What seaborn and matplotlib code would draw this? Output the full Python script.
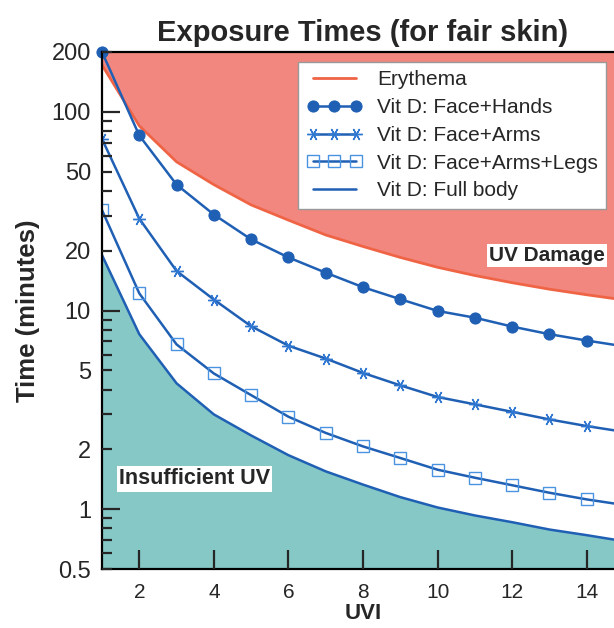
import numpy as np
import pandas as pd
import seaborn as sns
import matplotlib.pyplot as plt
from matplotlib.ticker import FixedLocator, FixedFormatter

# values (minutes vs UV index)
uvi = [1, 2, 3, 4, 5, 6, 7, 8, 9, 10, 11, 12, 13, 14, 15]
erythema = [172, 85, 56, 43, 34, 28.5, 24, 21, 18.5, 16.5, 15, 13.8, 12.8, 12, 11.3]
face_hands = [200, 76, 43, 30.4, 22.8, 18.5, 15.5, 13.1, 11.4, 9.95, 9.2, 8.3, 7.6, 7.06, 6.6]
face_arms = [73, 29, 15.8, 11.35, 8.33, 6.65, 5.73, 4.85, 4.2, 3.67, 3.37, 3.09, 2.83, 2.62, 2.45]
face_arms_legs = [32, 12.2, 6.75, 4.82, 3.75, 2.92, 2.42, 2.07, 1.81, 1.58, 1.44, 1.32, 1.21, 1.12, 1.05]
full_body = [19, 7.6, 4.3, 3.0, 2.35, 1.87, 1.55, 1.33, 1.15, 1.02, 0.93, 0.86, 0.79, 0.74, 0.69]

df = pd.DataFrame({
    "UVI": uvi,
    "Erythema": erythema,
    "Vit D: Face+Hands": face_hands,
    "Vit D: Face+Arms": face_arms,
    "Vit D: Face+Arms+Legs": face_arms_legs,
    "Vit D: Full body": full_body,
})

sns.set_style("ticks")
plt.rcParams["font.family"] = ["Liberation Sans", "DejaVu Sans"]

blue = "#1f5fb4"
fig = plt.figure(figsize=(6.14, 6.28), dpi=100)
# axes run a little past the right edge, like the cropped original
ax = fig.add_axes([102 / 614, 59 / 628, 522 / 614, 517 / 628])
ax.set_axisbelow(False)

# shaded regions
ax.fill_between(df["UVI"], df["Erythema"], 200, color="#f2877f", lw=0)
ax.fill_between(df["UVI"], 0.5, df["Vit D: Full body"], color="#85c8c5", lw=0)

sns.lineplot(data=df, x="UVI", y="Erythema", ax=ax, color="#f06446", lw=2,
             label="Erythema")
sns.lineplot(data=df, x="UVI", y="Vit D: Face+Hands", ax=ax, color=blue, lw=1.8,
             marker="o", markersize=8, markeredgecolor=blue, clip_on=False,
             label="Vit D: Face+Hands")
sns.lineplot(data=df, x="UVI", y="Vit D: Face+Arms", ax=ax, color=blue, lw=1.8,
             marker=(6, 2, 90), markersize=9, markeredgecolor="#2f77d0",
             markeredgewidth=1.0, label="Vit D: Face+Arms")
sns.lineplot(data=df, x="UVI", y="Vit D: Face+Arms+Legs", ax=ax, color=blue, lw=1.8,
             marker="s", markersize=8, markerfacecolor="none",
             markeredgecolor="#4a93e0", markeredgewidth=1.0,
             label="Vit D: Face+Arms+Legs")
sns.lineplot(data=df, x="UVI", y="Vit D: Full body", ax=ax, color=blue, lw=1.8,
             label="Vit D: Full body")

ax.set_yscale("log")
ax.set_xlim(1, 15)
ax.set_ylim(0.5, 200)

ax.set_xticks([2, 4, 6, 8, 10, 12, 14])
ax.yaxis.set_major_locator(FixedLocator([1, 10, 100]))
ax.yaxis.set_major_formatter(FixedFormatter(["1", "10", "100"]))
minor = [0.5, 0.6, 0.7, 0.8, 0.9, 2, 3, 4, 5, 6, 7, 8, 9,
         20, 30, 40, 50, 60, 70, 80, 90, 200]
minor_labels = ["0.5", "", "", "", "", "2", "", "", "5", "", "", "", "",
                "20", "", "", "50", "", "", "", "", "200"]
ax.yaxis.set_minor_locator(FixedLocator(minor))
ax.yaxis.set_minor_formatter(FixedFormatter(minor_labels))

ax.tick_params(axis="x", which="both", direction="in", length=14, width=1.6,
               labelsize=15, pad=10, top=False)
ax.tick_params(axis="y", which="major", direction="in", length=13, width=1.6,
               labelsize=17, pad=8, right=False)
ax.tick_params(axis="y", which="minor", direction="in", length=7, width=1.6,
               labelsize=17, pad=8, right=False)
ax.tick_params(axis="x", which="minor", bottom=False)

for s in ["left", "bottom", "top"]:
    ax.spines[s].set_linewidth(1.6)
    ax.spines[s].set_color("black")

ax.set_title("Exposure Times (for fair skin)", fontsize=21, fontweight="bold", pad=8)
ax.set_xlabel("UVI", fontsize=16, fontweight="bold", labelpad=1)
ax.set_ylabel("Time (minutes)", fontsize=18.5, fontweight="bold", labelpad=8)

box = dict(facecolor="white", edgecolor="none", pad=1.5)
ax.text(14.5, 19, "UV Damage", fontsize=15, fontweight="bold", ha="right",
        va="center", bbox=box)
ax.text(1.45, 1.42, "Insufficient UV", fontsize=15.5, fontweight="bold", ha="left",
        va="center", bbox=box)

leg = ax.legend(loc="upper left", bbox_to_anchor=(298 / 614, 1 - 62 / 628),
                bbox_transform=fig.transFigure, fontsize=15, frameon=True,
                fancybox=False, framealpha=1, edgecolor="#999999",
                labelspacing=0.42, handlelength=2.7, handletextpad=0.7,
                borderpad=0.4, numpoints=3, borderaxespad=0)
leg.get_frame().set_linewidth(1.0)

fig.savefig("out.png", dpi=100)
